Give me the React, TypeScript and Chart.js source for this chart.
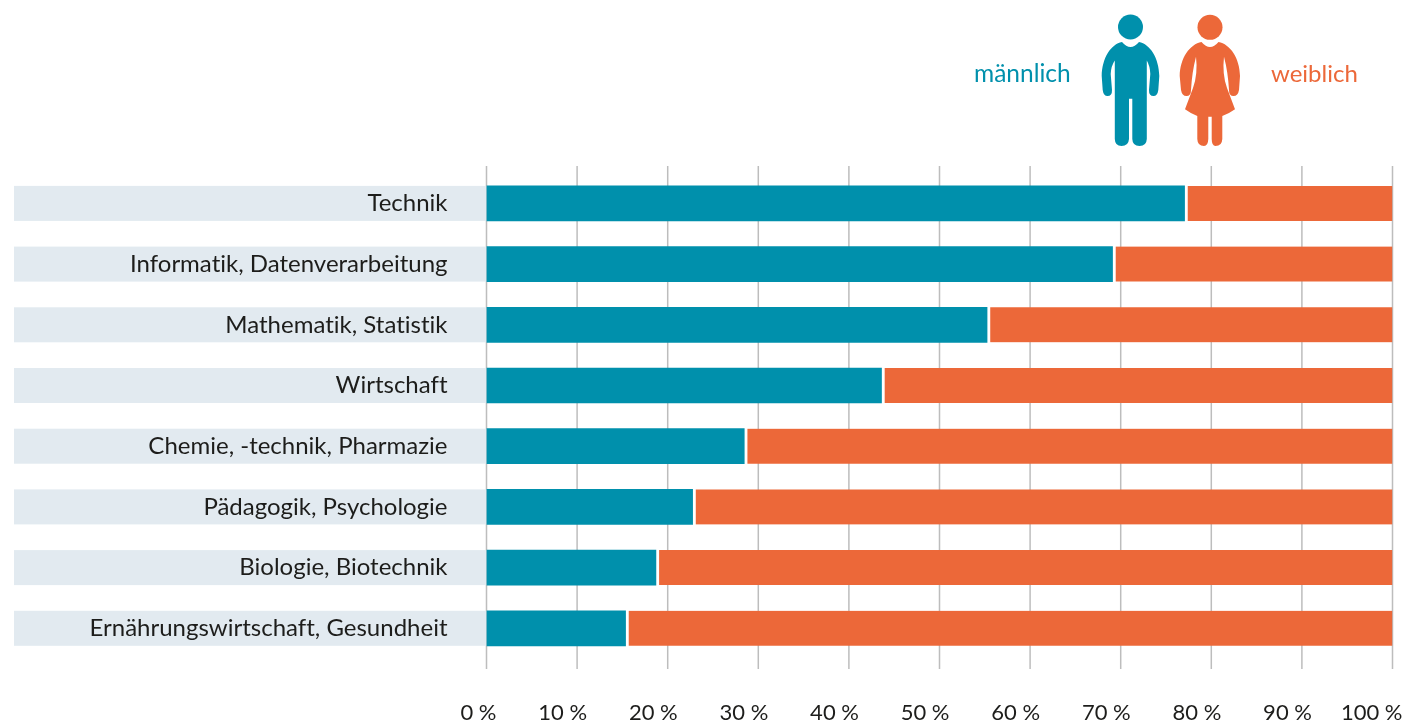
import React, { useEffect, useRef } from "react";
import { Chart, registerables } from "chart.js";

Chart.register(...registerables);

const categories = [
  "Technik",
  "Informatik, Datenverarbeitung",
  "Mathematik, Statistik",
  "Wirtschaft",
  "Chemie, -technik, Pharmazie",
  "Pädagogik, Psychologie",
  "Biologie, Biotechnik",
  "Ernährungswirtschaft, Gesundheit",
];
const maleShare = [77.05, 69.1, 55.25, 43.6, 28.45, 22.75, 18.7, 15.35];
const femaleShare = [22.95, 30.9, 44.75, 56.4, 71.55, 77.25, 81.3, 84.65];
const seriesNames = ["männlich", "weiblich"];

const TEAL = "#0090AC";
const ORANGE = "#EC6839";
const BAND = "#E2EAF0";
const GRID = "#BDBDBD";
const INK = "#1D1D1B";
const FONT = "Lato";

const backdrop = {
  id: "backdrop",
  beforeDraw(chart: any) {
    const { ctx, scales } = chart;
    const { x, y } = scales;
    ctx.textRendering = "optimizeSpeed";
    ctx.save();
    ctx.strokeStyle = GRID;
    ctx.lineWidth = 1.5;
    x.ticks.forEach((t: any) => {
      const px = x.getPixelForValue(t.value);
      ctx.beginPath();
      ctx.moveTo(px, 166);
      ctx.lineTo(px, 669);
      ctx.stroke();
    });
    ctx.fillStyle = BAND;
    const x0 = x.getPixelForValue(0);
    categories.forEach((_, i) => {
      ctx.fillRect(14, y.getPixelForValue(i) - 17.5, x0 - 14, 35);
    });
    ctx.restore();
  },
};

function Figures() {
  return (
    <svg
      width={1405}
      height={727}
      viewBox="0 0 1405 727"
      style={{ position: "absolute", left: 0, top: 0, pointerEvents: "none" }}
    >
      <g fill={TEAL}>
        <circle cx={1130.5} cy={27} r={12.5} />
        <path d="M1122 42 Q1130.5 52 1139 42 C1150 44 1159 58 1159.3 76 L1158.3 90 Q1157.5 96 1153.5 96 Q1148.8 96 1149 90 L1150.3 74 Q1150 66 1146.8 60.5 L1146.8 139 Q1146.5 146 1139.5 146 Q1132.5 146 1132.3 139 L1132.3 98.7 L1129 98.7 L1129 139 Q1128.5 146 1121.5 146 Q1115 146 1114.8 139 L1114.8 60.5 Q1111 66 1110.7 74 L1112 90 Q1112.2 96 1107.5 96 Q1103.5 96 1102.7 90 L1101.7 76 C1102 58 1111 44 1122 42 Z" />
      </g>
      <g fill={ORANGE}>
        <circle cx={1210} cy={27.3} r={12.5} />
        <path d="M1201.5 42 Q1210 52 1218.5 42 C1230 44 1239.7 58 1240 76 L1239 90 Q1238 96 1233.5 96 Q1229 96 1229 90 Q1228 72 1224 56.7 Q1222 74 1227 88 L1235 109.3 Q1228.5 114 1222.3 116 L1222.3 139 Q1222 146 1215.5 146 Q1211.8 146 1211.7 139 L1211.7 116.7 L1208.3 116.7 L1208.3 139 Q1208 146 1204 146 Q1197.5 146 1197.3 139 L1197.3 116 Q1191.5 114 1185 109.3 L1193 88 Q1198 74 1196 56.7 Q1192 72 1191 90 Q1191 96 1186.5 96 Q1182 96 1181 90 L1179.7 76 C1180 58 1190 44 1201.5 42 Z" />
      </g>
    </svg>
  );
}

export default function App() {
  const ref = useRef<HTMLCanvasElement | null>(null);

  useEffect(() => {
    document.body.style.margin = "0";
    const chart = new Chart(ref.current!, {
      type: "bar",
      data: {
        labels: categories,
        datasets: [
          {
            label: seriesNames[0],
            data: maleShare,
            backgroundColor: TEAL,
            borderWidth: 0,
            barThickness: 35,
          },
          {
            label: seriesNames[1],
            data: femaleShare,
            backgroundColor: ORANGE,
            borderColor: "#FFFFFF",
            borderWidth: { left: 3.5 },
            borderSkipped: false,
            barThickness: 35,
          },
        ],
      },
      options: {
        indexAxis: "y",
        responsive: false,
        animation: false,
        layout: { autoPadding: false, padding: { left: 0, right: 12.5, top: 173.05, bottom: 0 } },
        plugins: { legend: { display: false }, tooltip: { enabled: false } },
        scales: {
          x: {
            stacked: true,
            min: 0,
            max: 100,
            afterFit(s: any) {
              s.height = 68.35;
              s.paddingLeft = 0;
              s.paddingRight = 0;
            },
            grid: { display: false, drawTicks: false },
            border: { display: false },
            ticks: {
              stepSize: 10,
              autoSkip: false,
              maxRotation: 0,
              align: "end",
              labelOffset: 10,
              padding: 41,
              color: INK,
              font: { family: FONT, size: 22 },
              callback: (v: any) => `${v} %`,
            },
          },
          y: {
            stacked: true,
            afterFit(s: any) {
              s.width = 486.5;
              s.paddingTop = 0;
              s.paddingBottom = 0;
            },
            grid: { display: false, drawTicks: false },
            border: { display: false },
            ticks: {
              padding: 39,
              autoSkip: false,
              color: INK,
              font: { family: FONT, size: 24 },
            },
          },
        },
      } as any,
      plugins: [backdrop],
    });
    return () => chart.destroy();
  }, []);

  const legendStyle = (left: number, color: string, size: number): React.CSSProperties => ({
    position: "absolute",
    left,
    top: 58,
    color,
    font: `${size}px ${FONT}`,
    lineHeight: "30px",
  });

  return (
    <div style={{ position: "relative", width: 1405, height: 727, overflow: "hidden" }}>
      <canvas ref={ref} width={1405} height={727} style={{ display: "block" }} />
      <Figures />
      <div style={legendStyle(974, TEAL, 24.5)}>{seriesNames[0]}</div>
      <div style={legendStyle(1271, ORANGE, 24)}>{seriesNames[1]}</div>
    </div>
  );
}
